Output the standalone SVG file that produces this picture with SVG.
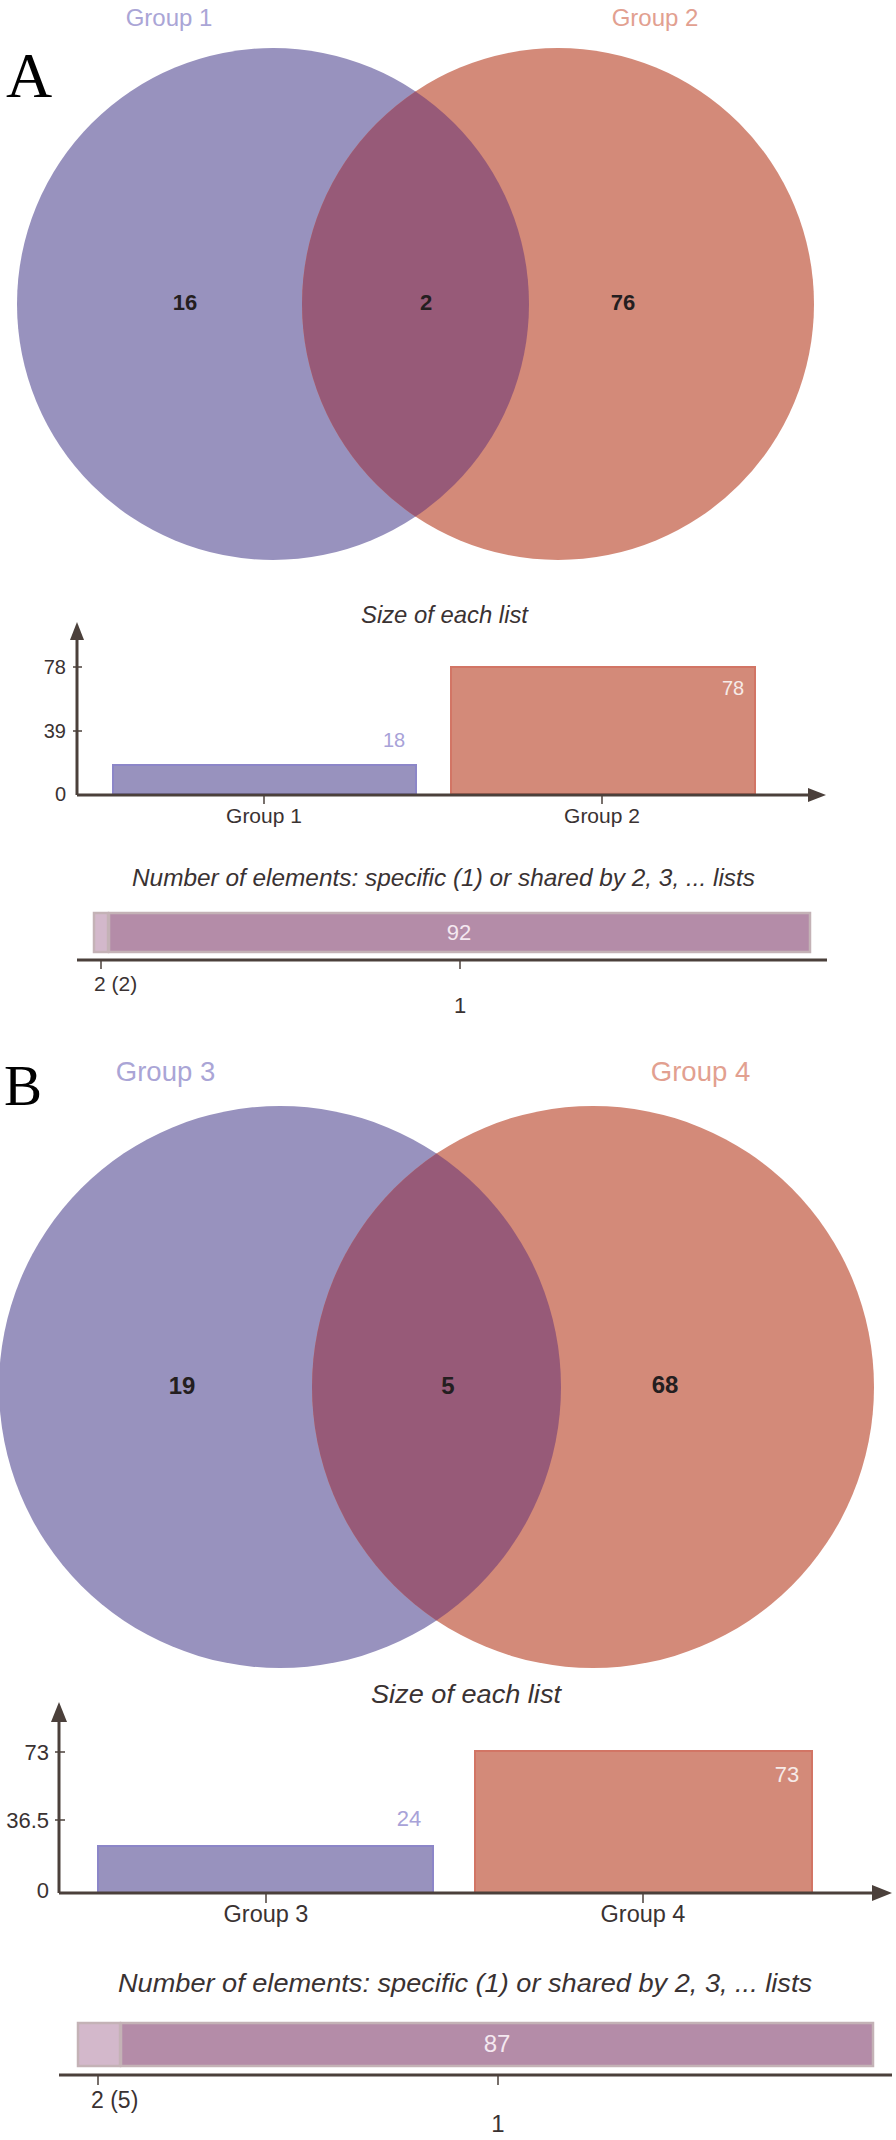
<svg xmlns="http://www.w3.org/2000/svg" width="896" height="2140" viewBox="0 0 896 2140">
<defs>
<style>
.serif{font-family:"Liberation Serif","Times New Roman",serif;fill:#000}
.num{font-family:"Liberation Sans",Arial,sans-serif;font-weight:bold;fill:#241e20;text-anchor:middle}
.lbl{font-family:"Liberation Sans",Arial,sans-serif;fill:#3a3232}
.mid{text-anchor:middle}
.end{text-anchor:end}
.ttl{font-family:"Liberation Sans",Arial,sans-serif;font-style:italic;fill:#3a3232;text-anchor:middle}
.ax{stroke:#4b403b;stroke-width:3;fill:none}
.tk{stroke:#4b403b;stroke-width:1.5;fill:none}
.ah{fill:#4b403b}
.blue{fill:#9892be}
.orange{fill:#d38a79}
.inter{fill:#975a78}
.bbar{fill:#9892be;stroke:#8c86c8;stroke-width:2}
.obar{fill:#d38a79;stroke:#d27565;stroke-width:2}
.mbar{fill:#b48ca8;stroke:#c4b2b6;stroke-width:2.5}
.sbar{fill:#d3b8cb;stroke:#c4b2b6;stroke-width:2.5}
.gl1{font-family:"Liberation Sans",Arial,sans-serif;fill:#aaa5d6;text-anchor:middle}
.gl2{font-family:"Liberation Sans",Arial,sans-serif;fill:#e2a090;text-anchor:middle}
</style>
<clipPath id="clipA"><circle cx="273" cy="304" r="256"/></clipPath>
<clipPath id="clipB"><circle cx="280" cy="1387" r="281"/></clipPath>
</defs>
<rect width="896" height="2140" fill="#ffffff"/>

<!-- Panel A -->
<g id="panelA-label"><text class="serif" x="6" y="97" font-size="64">A</text></g>
<g id="vennA">
  <circle class="blue" cx="273" cy="304" r="256"/>
  <circle class="orange" cx="558" cy="304" r="256"/>
  <circle class="inter" cx="558" cy="304" r="256" clip-path="url(#clipA)"/>
  <text class="gl1" x="169" y="26" font-size="24">Group 1</text>
  <text class="gl2" x="655" y="26" font-size="24">Group 2</text>
  <text class="num" x="185" y="310" font-size="22">16</text>
  <text class="num" x="426" y="310" font-size="22">2</text>
  <text class="num" x="623" y="310" font-size="22">76</text>
</g>
<g id="sizeA">
  <text class="ttl" x="444.5" y="623" font-size="24" textLength="167" lengthAdjust="spacingAndGlyphs">Size of each list</text>
  <rect class="bbar" x="113" y="765" width="303" height="29"/>
  <rect class="obar" x="451" y="667" width="304" height="127"/>
  <text class="lbl mid" x="394" y="747" font-size="20" fill="#a8a2d8" style="fill:#a8a2d8">18</text>
  <text class="lbl mid" x="733" y="695" font-size="20" style="fill:#f6ebe8">78</text>
  <line class="ax" x1="77" y1="795" x2="77" y2="636"/>
  <polygon class="ah" points="77,622 70,640 84,640"/>
  <line class="ax" x1="77" y1="795" x2="810" y2="795"/>
  <polygon class="ah" points="826,795 808,788 808,802"/>
  <line class="tk" x1="73" y1="667" x2="82" y2="667"/>
  <line class="tk" x1="73" y1="731" x2="82" y2="731"/>
  <line class="tk" x1="264" y1="796" x2="264" y2="804"/>
  <line class="tk" x1="602" y1="796" x2="602" y2="804"/>
  <text class="lbl end" x="66" y="674" font-size="20">78</text>
  <text class="lbl end" x="66" y="738" font-size="20">39</text>
  <text class="lbl end" x="66" y="801" font-size="20">0</text>
  <text class="lbl mid" x="264" y="823" font-size="21">Group 1</text>
  <text class="lbl mid" x="602" y="823" font-size="21">Group 2</text>
</g>
<g id="sharedA">
  <text class="ttl" x="443.5" y="886" font-size="24" textLength="623" lengthAdjust="spacingAndGlyphs">Number of elements: specific (1) or shared by 2, 3, ... lists</text>
  <rect class="sbar" x="94" y="913" width="14" height="39"/>
  <rect class="mbar" x="109" y="913" width="701" height="39"/>
  <text class="lbl mid" x="459" y="940" font-size="22" style="fill:#f4e8f0">92</text>
  <line class="ax" x1="77" y1="960" x2="827" y2="960"/>
  <line class="tk" x1="101" y1="961" x2="101" y2="969"/>
  <line class="tk" x1="460" y1="961" x2="460" y2="969"/>
  <text class="lbl" x="94" y="991" font-size="21">2 (2)</text>
  <text class="lbl mid" x="460" y="1013" font-size="22">1</text>
</g>

<!-- Panel B -->
<g id="panelB-label"><text class="serif" x="4" y="1105" font-size="57">B</text></g>
<g id="vennB">
  <circle class="blue" cx="280" cy="1387" r="281"/>
  <circle class="orange" cx="593" cy="1387" r="281"/>
  <circle class="inter" cx="593" cy="1387" r="281" clip-path="url(#clipB)"/>
  <text class="gl1" x="165.5" y="1081" font-size="27.5">Group 3</text>
  <text class="gl2" x="700.5" y="1081" font-size="27.5">Group 4</text>
  <text class="num" x="182" y="1394" font-size="24">19</text>
  <text class="num" x="448" y="1394" font-size="24">5</text>
  <text class="num" x="665" y="1393" font-size="24">68</text>
</g>
<g id="sizeB">
  <text class="ttl" x="466" y="1703" font-size="26.5" textLength="190" lengthAdjust="spacingAndGlyphs">Size of each list</text>
  <rect class="bbar" x="98" y="1846" width="335" height="47"/>
  <rect class="obar" x="475" y="1751" width="337" height="142"/>
  <text class="lbl mid" x="409" y="1826" font-size="22" style="fill:#a8a2d8">24</text>
  <text class="lbl mid" x="787" y="1782" font-size="22" style="fill:#f6ebe8">73</text>
  <line class="ax" x1="59" y1="1893" x2="59" y2="1718"/>
  <polygon class="ah" points="59,1702 51,1722 67,1722"/>
  <line class="ax" x1="59" y1="1893" x2="875" y2="1893"/>
  <polygon class="ah" points="892,1893 872,1885 872,1901"/>
  <line class="tk" x1="55" y1="1752" x2="65" y2="1752"/>
  <line class="tk" x1="55" y1="1820" x2="65" y2="1820"/>
  <line class="tk" x1="266" y1="1894" x2="266" y2="1903"/>
  <line class="tk" x1="643" y1="1894" x2="643" y2="1903"/>
  <text class="lbl end" x="49" y="1760" font-size="22">73</text>
  <text class="lbl end" x="49" y="1828" font-size="22">36.5</text>
  <text class="lbl end" x="49" y="1898" font-size="22">0</text>
  <text class="lbl mid" x="266" y="1922" font-size="23.5">Group 3</text>
  <text class="lbl mid" x="643" y="1922" font-size="23.5">Group 4</text>
</g>
<g id="sharedB">
  <text class="ttl" x="465" y="1992" font-size="26.5" textLength="694" lengthAdjust="spacingAndGlyphs">Number of elements: specific (1) or shared by 2, 3, ... lists</text>
  <rect class="sbar" x="78" y="2023" width="42" height="43"/>
  <rect class="mbar" x="121" y="2023" width="752" height="43"/>
  <text class="lbl mid" x="497" y="2052" font-size="24" style="fill:#f4e8f0">87</text>
  <line class="ax" x1="59" y1="2075" x2="892" y2="2075"/>
  <line class="tk" x1="98" y1="2076" x2="98" y2="2085"/>
  <line class="tk" x1="498" y1="2076" x2="498" y2="2085"/>
  <text class="lbl" x="91" y="2108" font-size="23">2 (5)</text>
  <text class="lbl mid" x="498" y="2132" font-size="24">1</text>
</g>
</svg>
